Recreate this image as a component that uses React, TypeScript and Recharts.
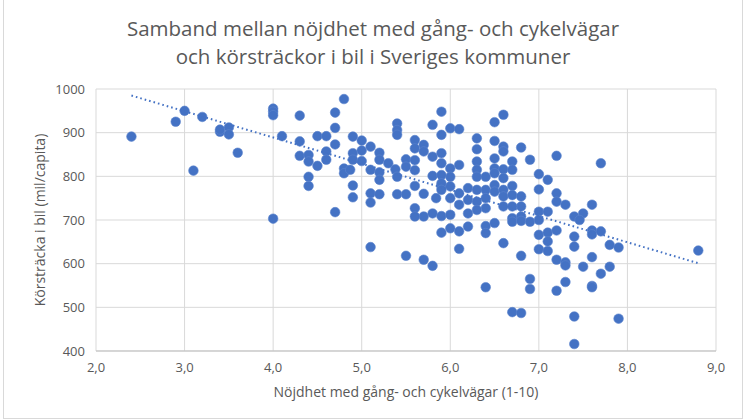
import React from 'react';
import { ScatterChart, Scatter, XAxis, YAxis, CartesianGrid } from 'recharts';

// nöjdhet (x) och körsträcka (y)
const satisfaction = [
  2.4, 2.9, 3.0, 3.2, 3.1, 3.4, 3.4, 3.5, 3.5, 3.6, 4.0, 4.0, 4.0, 4.1, 4.0,
  4.3, 4.3, 4.8, 4.7, 4.7, 4.7, 4.5, 4.6, 4.3, 4.4, 4.4, 4.5, 4.6, 4.6, 4.4, 4.4, 4.7,
  4.8, 4.8, 4.87, 4.9, 4.9, 4.9, 4.9, 4.9, 5.0, 5.0, 5.0, 5.1, 5.1, 5.1, 5.1,
  5.2, 5.2, 5.2, 5.2, 5.2, 5.3, 5.38, 5.4, 5.4, 5.4, 5.4, 5.4, 5.5, 5.5, 5.5,
  5.6, 5.6, 5.7, 5.7, 5.6, 5.6, 5.6, 5.6, 5.7, 5.8, 5.8, 5.8, 5.84, 5.9, 5.9,
  5.9, 5.9, 5.9, 5.7, 5.8,
  6.0, 6.1, 6.0, 6.0, 6.0, 6.1, 5.9, 5.9, 5.9, 6.0, 6.1, 6.1, 6.2, 6.2, 6.3, 6.3,
  6.3, 6.3, 6.3, 6.3, 6.3, 6.4, 6.4, 6.4, 6.4, 6.5, 6.6, 6.5, 6.6, 6.6, 6.5, 6.5,
  6.5, 6.6, 6.6, 6.5, 6.5, 6.6, 6.6, 6.7, 6.7, 6.7, 6.7, 6.8, 6.8, 6.8, 6.9, 7.0,
  7.0, 7.1, 7.2, 7.2, 7.2, 7.3, 7.4, 7.5, 7.6, 6.7, 6.8, 6.2, 6.3, 7.0, 7.1, 6.6,
  6.7, 5.9, 6.0,
  5.9, 6.0, 6.1, 6.2, 6.1, 5.8, 6.4, 6.4, 6.5, 6.6, 6.7, 6.8, 6.9, 7.0, 6.8, 7.0,
  7.0, 6.9, 6.9, 6.4, 6.7, 6.8, 7.1, 7.1, 7.1, 7.2, 7.2, 7.3, 7.3, 7.3, 7.2, 7.46,
  7.4, 7.4, 7.4, 7.4, 7.5, 7.6, 7.6, 7.6,
  5.1, 5.5, 5.7, 5.6,
  7.6, 7.7, 7.8, 7.9, 7.7, 7.8, 7.6, 7.9, 8.8, 7.7,
];

const distance = [
  891, 925, 950, 936, 813, 902, 907, 912, 896, 854, 955, 948, 940, 892, 703,
  880, 939, 977, 946, 911, 873, 892, 892, 847, 849, 834, 824, 857, 838, 799, 778, 718,
  818, 807, 815, 891, 853, 838, 779, 752, 882, 859, 835, 868, 815, 761, 740,
  854, 838, 809, 792, 759, 830, 816, 799, 921, 906, 895, 759, 839, 759, 822,
  883, 864, 872, 857, 837, 814, 778, 727, 760, 918, 845, 801, 750, 948, 895,
  853, 830, 777, 708, 715,
  910, 908, 818, 799, 777, 826, 803, 784, 769, 750, 761, 735, 773, 746, 887, 862,
  834, 815, 799, 769, 742, 799, 769, 750, 727, 924, 941, 881, 868, 857, 841, 818,
  807, 816, 796, 780, 765, 769, 754, 834, 815, 778, 757, 866, 754, 731, 838, 805,
  770, 792, 847, 761, 742, 735, 708, 715, 735, 704, 708, 715, 723, 719, 719, 731,
  731, 709, 712,
  671, 681, 674, 685, 634, 595, 686, 670, 693, 647, 696, 698, 696, 700, 618, 666,
  633, 565, 542, 546, 489, 487, 671, 651, 629, 676, 609, 603, 596, 558, 538, 700,
  662, 639, 479, 416, 593, 676, 615, 549,
  638, 618, 609, 708,
  667, 674, 643, 637, 577, 593, 546, 474, 630, 830,
];

// linjär trendlinje, ändpunkter
const trendX = [2.4, 8.8];
const trendY = [985, 601];

const xTicks = [2, 3, 4, 5, 6, 7, 8, 9];
const yTicks = [400, 500, 600, 700, 800, 900, 1000];

const points = satisfaction.map((x, i) => ({ x, y: distance[i] }));
const trend = trendX.map((x, i) => ({ x, y: trendY[i] }));

const FONT = "'Open Sans', sans-serif";
const GREY = '#595959';

const Dot = (props: any) => {
  const { cx, cy } = props;
  if (cx == null || cy == null) return <g />;
  return <circle cx={cx} cy={cy} r={4.8} fill="#4472C4" stroke="#5b83cc" strokeWidth={0.6} />;
};

export default function App() {
  return (
    <div style={{ position: 'absolute', left: 0, top: 0, width: 746, height: 419, background: '#fff', fontFamily: FONT }}>
      <div style={{ position: 'absolute', left: 3, top: 0, width: 738, height: 418, border: '1px solid #d9d9d9', borderTop: 'none' }} />
      <div style={{ position: 'absolute', left: 0, top: 14, width: 746, textAlign: 'center', color: GREY, fontSize: 20.5, lineHeight: '28px' }}>
        Samband mellan nöjdhet med gång- och cykelvägar
        <br />
        och körsträckor i bil i Sveriges kommuner
      </div>
      <ScatterChart width={746} height={419} margin={{ top: 89, right: 30, bottom: 0, left: 0 }} style={{ position: 'absolute', left: 0, top: 0 }}>
        <CartesianGrid stroke="#d9d9d9" />
        <XAxis
          type="number"
          dataKey="x"
          domain={[2, 9]}
          ticks={xTicks}
          height={68}
          tickLine={false}
          axisLine={{ stroke: '#bfbfbf' }}
          tickMargin={6}
          tick={{ fill: GREY, fontSize: 13, fontFamily: FONT }}
          tickFormatter={(v: number) => v.toFixed(1).replace('.', ',')}
        />
        <YAxis
          type="number"
          dataKey="y"
          domain={[400, 1000]}
          ticks={yTicks}
          width={96}
          tickLine={false}
          axisLine={false}
          tickMargin={5}
          tick={{ fill: GREY, fontSize: 13, fontFamily: FONT }}
        />
        <Scatter data={points} shape={<Dot />} isAnimationActive={false} />
        <Scatter
          data={trend}
          line={{ stroke: '#4472C4', strokeWidth: 2, strokeDasharray: '1.6 3' }}
          shape={() => <g />}
          isAnimationActive={false}
        />
      </ScatterChart>
      <div style={{ position: 'absolute', left: 96, top: 382, width: 620, textAlign: 'center', color: GREY, fontSize: 14 }}>
        Nöjdhet med gång- och cykelvägar (1-10)
      </div>
      <div
        style={{
          position: 'absolute', left: 40, top: 220, width: 300, marginLeft: -150, textAlign: 'center',
          color: GREY, fontSize: 14, transform: 'translateY(-50%) rotate(-90deg)', lineHeight: '20px',
        }}
      >
        Körsträcka i bil (mil/capita)
      </div>
    </div>
  );
}
